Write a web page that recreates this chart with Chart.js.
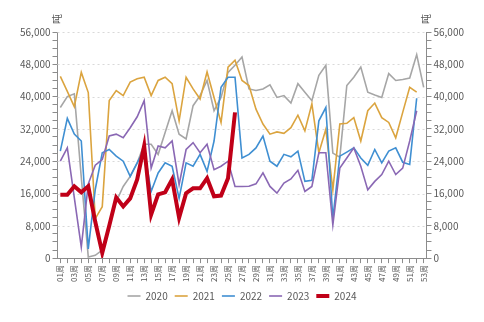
<!DOCTYPE html>
<html>
<head>
<meta charset="utf-8">
<script src="https://cdn.jsdelivr.net/npm/chart.js@4.4.0/dist/chart.umd.min.js"></script>
<style>
  html, body { margin: 0; padding: 0; background: #fff; }
  #wrap { width: 484px; height: 322px; }
</style>
</head>
<body>
<div id="wrap"><canvas id="weekChart" width="484" height="322"></canvas></div>
<script>
// 周度数据（吨）
const weeks = ['01周','02周','03周','04周','05周','06周','07周','08周','09周','10周',
  '11周','12周','13周','14周','15周','16周','17周','18周','19周','20周',
  '21周','22周','23周','24周','25周','26周','27周','28周','29周','30周',
  '31周','32周','33周','34周','35周','36周','37周','38周','39周','40周',
  '41周','42周','43周','44周','45周','46周','47周','48周','49周','50周',
  '51周','52周','53周'];

const years = ['2020', '2021', '2022', '2023', '2024'];

const s2020 = [37300, 40000, 40700, 20000, 300, 700, 2000, 8000, 14000, 17750,
  20250, 23600, 28200, 28200, 25700, 31100, 36500, 30700, 29500, 37750,
  40250, 44000, 36500, 39800, 46000, 47750, 49800, 41900, 41500, 41900,
  42900, 39800, 40250, 38400, 43200, 41100, 39000, 45250, 47750, 26000,
  25000, 42750, 44800, 47300, 41100, 40400, 39800, 45700, 44000, 44250,
  44600, 50400, 42300];

const s2021 = [45000, 41300, 37500, 46000, 41000, 9800, 12750, 39000, 41500, 40250,
  43600, 44400, 44800, 40250, 44000, 44800, 43200, 34000, 44800, 41900,
  39400, 46100, 39800, 33600, 47300, 49000, 44000, 42750, 36900, 33200,
  30700, 31250, 30900, 32300, 35400, 31500, 38200, 26100, 31900, 16900,
  33200, 33400, 34800, 29000, 36500, 38400, 34800, 33600, 29800, 36100,
  42300, 41100];

const s2022 = [26500, 34600, 30700, 29000, 2300, 17000, 26100, 26900, 25250, 24000,
  20250, 23600, 26900, 16500, 21100, 23600, 22750, 14800, 23600, 22750,
  25700, 21500, 29000, 42300, 44800, 44800, 24800, 25700, 27300, 30250,
  24000, 22750, 25700, 25100, 26500, 19000, 19250, 34000, 37300, 9800,
  25250, 26250, 27300, 24800, 23000, 26900, 23600, 26500, 27300, 23750,
  23200, 39600];

const s2023 = [24000, 27300, 15000, 2750, 18400, 23000, 24400, 30250, 30700, 29800,
  32300, 35000, 39000, 22300, 27750, 27300, 29000, 18200, 26900, 28600,
  26100, 28200, 21900, 22750, 24000, 17750, 17750, 17800, 18400, 21100,
  17750, 16100, 18600, 19600, 21750, 16500, 17750, 26100, 26100, 8200,
  22300, 24800, 27300, 22750, 16900, 19000, 20700, 24000, 20700, 22300,
  29000, 36500];

const s2024 = [15700, 15700, 17800, 16300, 17800, 9000, 1300, 8000, 15000, 12800,
  14800, 19500, 27800, 10800, 15800, 16300, 19500, 10000, 16100, 17300,
  17300, 19800, 15300, 15500, 19800, 36100];

const yTicks = [0, 8000, 16000, 24000, 32000, 40000, 48000, 56000];

const seriesData = [s2020, s2021, s2022, s2023, s2024];
const colors = ['#a6a6a6', '#dba43f', '#3f8fd2', '#8a68b4', '#c00018'];
const widths = [1.6, 1.6, 1.6, 1.6, 4];

const fontFamily = '"Noto Sans CJK SC", "Noto Sans", sans-serif';
const textColor = '#595959';
const axisColor = '#8c8c8c';

// 坐标轴单位 "吨"
const unitPlugin = {
  id: 'unitLabel',
  afterDraw(chart) {
    const ctx = chart.ctx;
    const area = chart.chartArea;
    ctx.save();
    ctx.fillStyle = textColor;
    ctx.font = '10px ' + fontFamily;
    ctx.textAlign = 'center';
    ctx.textBaseline = 'middle';
    [area.left, area.right].forEach(x => {
      ctx.save();
      ctx.translate(x, area.top - 13);
      ctx.rotate(-Math.PI / 2);
      ctx.fillText('吨', 0, 0);
      ctx.restore();
    });
    ctx.restore();
  }
};

function yAxis(position) {
  return {
    position: position,
    min: 0,
    max: 56000,
    border: { display: true, color: axisColor, width: 1 },
    grid: {
      drawOnChartArea: false,
      tickColor: axisColor,
      tickLength: 5,
      lineWidth: 1
    },
    ticks: {
      stepSize: 2000,
      autoSkip: false,
      padding: 2,
      color: textColor,
      font: { family: fontFamily, size: 10 },
      callback: v => yTicks.includes(v) ? v.toLocaleString('en-US') : ''
    }
  };
}

// 网格虚线
const dashPlugin = {
  id: 'dashGrid',
  beforeDatasetsDraw(chart) {
    const ctx = chart.ctx;
    const area = chart.chartArea;
    const y = chart.scales.y;
    ctx.save();
    ctx.strokeStyle = '#d9d9d9';
    ctx.lineWidth = 1;
    ctx.setLineDash([2, 3]);
    yTicks.forEach(v => {
      if (v === 0) return;
      const py = Math.round(y.getPixelForValue(v)) + 0.5;
      ctx.beginPath();
      ctx.moveTo(area.left, py);
      ctx.lineTo(area.right, py);
      ctx.stroke();
    });
    ctx.restore();
  }
};

const chart = new Chart(document.getElementById('weekChart').getContext('2d'), {
  type: 'line',
  data: {
    datasets: years.map((y, i) => ({
      label: y,
      data: seriesData[i].map((v, k) => ({ x: k, y: v })),
      borderColor: colors[i],
      backgroundColor: colors[i],
      borderWidth: widths[i],
      pointRadius: 0,
      tension: 0,
      yAxisID: 'y',
      order: i === 4 ? 0 : 5 - i
    }))
  },
  options: {
    responsive: false,
    animation: false,
    layout: { padding: { top: 32, left: 18, right: 18, bottom: 11 } },
    plugins: {
      tooltip: { enabled: false },
      legend: {
        position: 'bottom',
        labels: {
          usePointStyle: true,
          pointStyle: 'line',
          pointStyleWidth: 13,
          boxHeight: 6,
          padding: 7,
          color: textColor,
          font: { family: fontFamily, size: 10 },
          sort: (a, b) => a.datasetIndex - b.datasetIndex
        }
      }
    },
    scales: {
      x: {
        type: 'linear',
        min: -0.4,
        max: weeks.length - 0.6,
        border: { display: true, color: axisColor },
        grid: {
          drawOnChartArea: false,
          tickColor: axisColor,
          tickLength: 5
        },
        afterBuildTicks: axis => { axis.ticks = weeks.map((w, k) => ({ value: k })); },
        ticks: {
          autoSkip: false,
          minRotation: 90,
          maxRotation: 90,
          padding: 2,
          color: textColor,
          font: { family: fontFamily, size: 8 },
          callback: v => v % 2 === 0 ? weeks[v] : ''
        }
      },
      y: yAxis('left'),
      y1: yAxis('right')
    }
  },
  plugins: [dashPlugin, unitPlugin]
});
</script>
</body>
</html>
